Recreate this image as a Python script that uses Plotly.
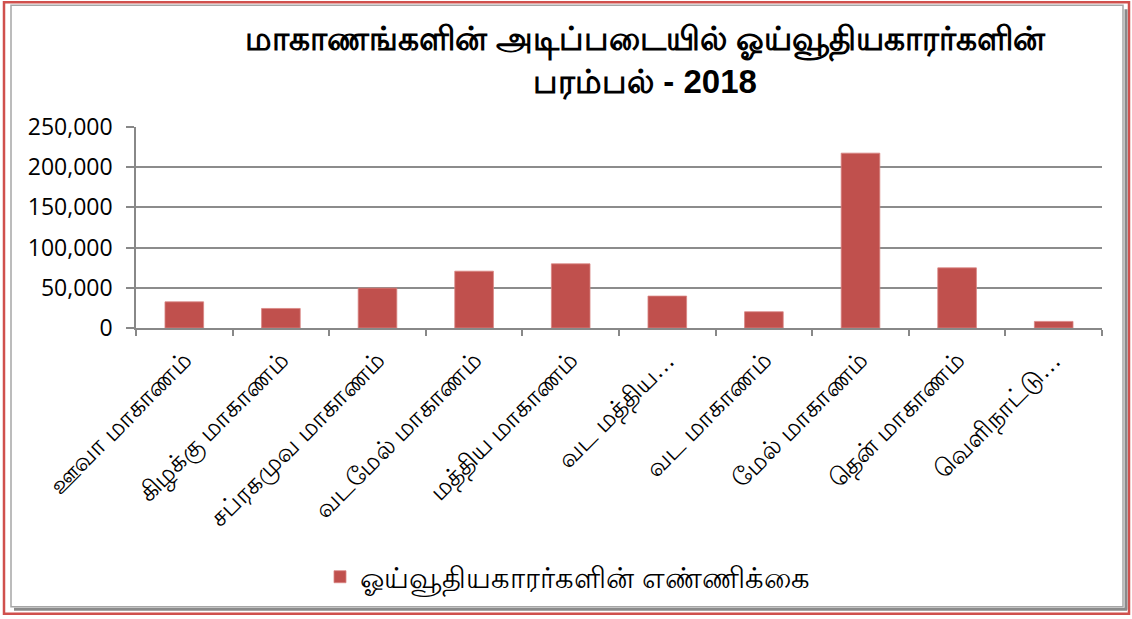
import plotly.graph_objects as go

categories = ["ஊவா மாகாணம்", "கிழக்கு மாகாணம்", "சப்ரகமுவ மாகாணம்", "வடமேல் மாகாணம்",
              "மத்திய மாகாணம்", "வட மத்திய…", "வட மாகாணம்", "மேல் மாகாணம்",
              "தென் மாகாணம்", "வெளிநாட்டு…"]
pensioners = [32500, 24300, 49600, 70700, 79800, 39700, 20200, 217500, 74800, 8200]
series_name = "ஓய்வூதியகாரர்களின் எண்ணிக்கை"
title_text = "மாகாணங்களின் அடிப்படையில் ஓய்வூதியகாரர்களின்<br>பரம்பல் - 2018"
y_ticks = [0, 50000, 100000, 150000, 200000, 250000]

W, H = 1132, 619
L, R, T, B = 136, 1102, 127, 328.5

def px_x(x):
    return (x - L) / (R - L)

def px_y(y):
    return (B - y) / (B - T)

fig = go.Figure()
fig.add_trace(go.Bar(
    x=categories, y=pensioners, name=series_name,
    marker=dict(color="#C0504D", line=dict(color="#D98583", width=0.8)),
    showlegend=True,
))

shapes = [
    dict(type="rect", xref="paper", yref="paper",
         x0=px_x(4), x1=px_x(1129), y0=px_y(2), y1=px_y(615),
         line=dict(color="#D0504D", width=2.5), layer="below"),
    dict(type="line", xref="paper", yref="paper",
         x0=px_x(1126), x1=px_x(1126), y0=px_y(9), y1=px_y(611),
         line=dict(color="#8a8a8a", width=3), layer="below"),
    dict(type="line", xref="paper", yref="paper",
         x0=px_x(14), x1=px_x(1127), y0=px_y(610.5), y1=px_y(610.5),
         line=dict(color="#8a8a8a", width=3), layer="below"),
    dict(type="rect", xref="paper", yref="paper",
         x0=px_x(11), x1=px_x(1123), y0=px_y(5), y1=px_y(608),
         line=dict(color="#a6a6a6", width=1.5), layer="below"),
]

fig.update_layout(
    width=W, height=H,
    margin=dict(l=L, r=W - R, t=T, b=H - B, pad=0),
    paper_bgcolor="white", plot_bgcolor="white",
    title=dict(text="<b>" + title_text + "</b>", x=645 / W,
               xanchor="center", y=1 - 50 / H, yanchor="middle",
               font=dict(family="Liberation Sans Narrow, Liberation Sans, sans-serif", size=33, color="black")),
    bargap=0.6,
    showlegend=True,
    legend=dict(orientation="h", x=px_x(568), xanchor="center", y=px_y(578), yanchor="middle",
                font=dict(family="Liberation Sans, sans-serif", size=29, color="black"),
                bgcolor="rgba(0,0,0,0)"),
    shapes=shapes,
    font=dict(family="Liberation Sans, sans-serif", color="black"),
)

fig.update_xaxes(
    type="category", tickangle=-45, tickson="boundaries", ticks="outside", ticklen=6,
    tickcolor="#888888", tickwidth=1.5, showline=True, linecolor="#888888", linewidth=1.5,
    tickfont=dict(family="Liberation Sans, sans-serif", size=25, color="black"),
    ticklabelstandoff=6,
    showgrid=False,
)
fig.update_yaxes(
    range=[0, 250000], tickvals=y_ticks, tickformat=",d", ticks="outside", ticklen=8,
    tickcolor="#888888", tickwidth=1.5, showline=True, linecolor="#888888", linewidth=1.5,
    showgrid=True, gridcolor="#8c8c8c", gridwidth=1.5, zeroline=False,
    tickfont=dict(family="Open Sans, sans-serif", size=23, color="black"),
    ticklabelstandoff=9,
)

fig.write_html("out.html", config={"displayModeBar": False},
               post_script="document.body.style.margin='0';document.body.style.overflow='hidden';")
